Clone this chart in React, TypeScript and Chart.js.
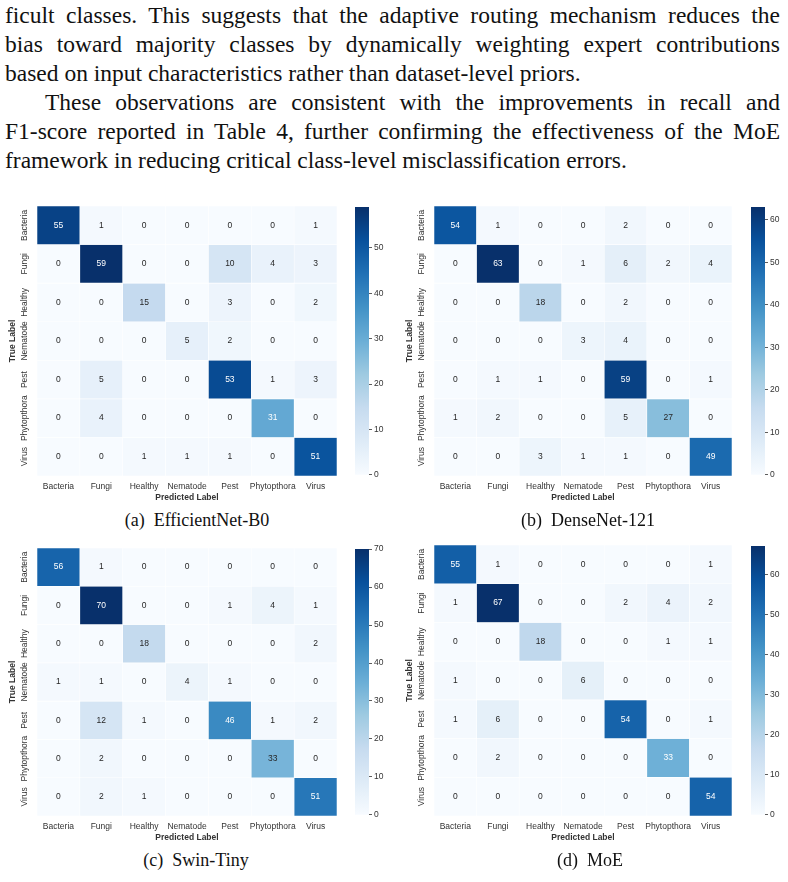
import React, { useEffect, useRef } from "react";
import { Chart, registerables } from "chart.js";

Chart.register(...registerables);

// ---- data -------------------------------------------------------------
const CLASSES = ["Bacteria", "Fungi", "Healthy", "Nematode", "Pest", "Phytopthora", "Virus"];

// rows = true label, columns = predicted label
const EFFICIENTNET_B0 = [
  [55, 1, 0, 0, 0, 0, 1],
  [0, 59, 0, 0, 10, 4, 3],
  [0, 0, 15, 0, 3, 0, 2],
  [0, 0, 0, 5, 2, 0, 0],
  [0, 5, 0, 0, 53, 1, 3],
  [0, 4, 0, 0, 0, 31, 0],
  [0, 0, 1, 1, 1, 0, 51],
];

const DENSENET_121 = [
  [54, 1, 0, 0, 2, 0, 0],
  [0, 63, 0, 1, 6, 2, 4],
  [0, 0, 18, 0, 2, 0, 0],
  [0, 0, 0, 3, 4, 0, 0],
  [0, 1, 1, 0, 59, 0, 1],
  [1, 2, 0, 0, 5, 27, 0],
  [0, 0, 3, 1, 1, 0, 49],
];

const SWIN_TINY = [
  [56, 1, 0, 0, 0, 0, 0],
  [0, 70, 0, 0, 1, 4, 1],
  [0, 0, 18, 0, 0, 0, 2],
  [1, 1, 0, 4, 1, 0, 0],
  [0, 12, 1, 0, 46, 1, 2],
  [0, 2, 0, 0, 0, 33, 0],
  [0, 2, 1, 0, 0, 0, 51],
];

const MOE = [
  [55, 1, 0, 0, 0, 0, 1],
  [1, 67, 0, 0, 2, 4, 2],
  [0, 0, 18, 0, 0, 1, 1],
  [1, 0, 0, 6, 0, 0, 0],
  [1, 6, 0, 0, 54, 0, 1],
  [0, 2, 0, 0, 0, 33, 0],
  [0, 0, 0, 0, 0, 0, 54],
];

const CAPTIONS = ["(a)\u2002EfficientNet-B0", "(b)\u2002DenseNet-121", "(c)\u2002Swin-Tiny", "(d)\u2002MoE"];

const BODY_LINES = [
  "ficult classes. This suggests that the adaptive routing mechanism reduces the",
  "bias toward majority classes by dynamically weighting expert contributions",
  "based on input characteristics rather than dataset-level priors.",
  "These observations are consistent with the improvements in recall and",
  "F1-score reported in Table 4, further confirming the effectiveness of the MoE",
  "framework in reducing critical class-level misclassification errors.",
];

// ---- colour map (matplotlib "Blues") ---------------------------------
const BLUES = ["#f7fbff", "#deebf7", "#c6dbef", "#9ecae1", "#6baed6", "#4292c6", "#2171b5", "#08519c", "#08306b"];

function hexToRgb(h: string): number[] {
  const n = parseInt(h.slice(1), 16);
  return [(n >> 16) & 255, (n >> 8) & 255, n & 255];
}
const BLUES_RGB = BLUES.map(hexToRgb);

function blues(t: number): number[] {
  const tt = Math.max(0, Math.min(1, t));
  const p = tt * (BLUES_RGB.length - 1);
  const i = Math.min(Math.floor(p), BLUES_RGB.length - 2);
  const f = p - i;
  return BLUES_RGB[i].map((c, k) => c + (BLUES_RGB[i + 1][k] - c) * f);
}
const css = (rgb: number[]) => `rgb(${rgb.map((v) => Math.round(v)).join(",")})`;

function luminance(rgb: number[]): number {
  const lin = rgb.map((v) => {
    const c = v / 255;
    return c <= 0.03928 ? c / 12.92 : Math.pow((c + 0.055) / 1.055, 2.4);
  });
  return 0.2126 * lin[0] + 0.7152 * lin[1] + 0.0722 * lin[2];
}

const SANS = "'Liberation Sans', Arial, sans-serif";
const SERIF = "'Liberation Serif', 'Times New Roman', serif";
const INK = "#333333";
const FS = 8.5;

// ---- geometry of the four panels ---------------------------------------
type Box = { left: number; top: number; right: number; bottom: number; cbLeft: number };
const PANELS: { matrix: number[][]; box: Box; caption: string; capX: number; capY: number }[] = [
  { matrix: EFFICIENTNET_B0, box: { left: 37, top: 206, right: 337, bottom: 476, cbLeft: 355 }, caption: CAPTIONS[0], capX: 197, capY: 520 },
  { matrix: DENSENET_121, box: { left: 434, top: 206, right: 732, bottom: 476, cbLeft: 751 }, caption: CAPTIONS[1], capX: 588, capY: 520 },
  { matrix: SWIN_TINY, box: { left: 37, top: 548, right: 337, bottom: 816, cbLeft: 355 }, caption: CAPTIONS[2], capX: 196, capY: 860 },
  { matrix: MOE, box: { left: 434, top: 545, right: 732, bottom: 816, cbLeft: 751 }, caption: CAPTIONS[3], capX: 590, capY: 860 },
];

const Y_AXIS_W = 40;
const X_AXIS_H = 30;
const PAD = 6;
const CB_W = 14;
const CB_AXIS_W = 30;

function Heatmap({ matrix, box }: { matrix: number[][]; box: Box }) {
  const ref = useRef<HTMLCanvasElement>(null);
  const w = box.right - box.left + Y_AXIS_W + PAD;
  const h = box.bottom - box.top + PAD + X_AXIS_H;

  useEffect(() => {
    if (!ref.current) return;
    const vmax = Math.max(...matrix.flat());

    // numbers written in the middle of every cell
    const cellText = {
      id: "cellText",
      afterDatasetsDraw(chart: any) {
        const ctx = chart.ctx;
        ctx.save();
        ctx.font = `${FS}px ${SANS}`;
        ctx.textAlign = "center";
        ctx.textBaseline = "middle";
        matrix.forEach((row, r) => {
          const meta = chart.getDatasetMeta(r);
          row.forEach((v, c) => {
            const bar = meta.data[c];
            if (!bar) return;
            const { x, y, base } = bar.getProps(["x", "y", "base"], true);
            ctx.fillStyle = luminance(blues(v / vmax)) > 0.408 ? "#262626" : "#ffffff";
            ctx.fillText(String(v), x, (y + base) / 2);
          });
        });
        ctx.restore();
      },
    };

    // rotated class names along the left edge
    const rowLabels = {
      id: "rowLabels",
      afterDraw(chart: any) {
        const ctx = chart.ctx;
        const ys = chart.scales.y;
        ctx.save();
        ctx.font = `${FS}px ${SANS}`;
        ctx.fillStyle = INK;
        ctx.textAlign = "center";
        ctx.textBaseline = "middle";
        CLASSES.forEach((name, i) => {
          ctx.save();
          ctx.translate(chart.chartArea.left - 12, ys.getPixelForValue(i + 0.5));
          ctx.rotate(-Math.PI / 2);
          ctx.fillText(name, 0, 0);
          ctx.restore();
        });
        ctx.restore();
      },
    };

    const chart = new Chart(ref.current, {
      type: "bar",
      data: {
        labels: CLASSES,
        datasets: matrix.map((row, r) => ({
          label: CLASSES[r],
          data: row.map(() => [r, r + 1]),
          backgroundColor: row.map((v) => css(blues(v / vmax))),
          borderColor: "rgba(255,255,255,0.55)",
          borderWidth: 0.6,
          borderSkipped: false,
          grouped: false,
          barPercentage: 1,
          categoryPercentage: 1,
        })) as any,
      },
      options: {
        animation: false,
        responsive: false,
        maintainAspectRatio: false,
        events: [],
        layout: { padding: { left: 0, top: PAD, right: PAD, bottom: 0 } },
        plugins: { legend: { display: false }, tooltip: { enabled: false } },
        scales: {
          x: {
            type: "category",
            offset: true,
            grid: { display: false, drawTicks: false },
            border: { display: false },
            ticks: { font: { family: SANS, size: FS }, color: INK, padding: 6, maxRotation: 0, autoSkip: false },
            title: {
              display: true,
              text: "Predicted Label",
              font: { family: SANS, size: FS, weight: "bold" },
              color: INK,
              padding: { top: 0, bottom: 3 },
            },
            afterFit: (s: any) => {
              s.height = X_AXIS_H;
            },
          },
          y: {
            type: "linear",
            min: 0,
            max: CLASSES.length,
            reverse: true,
            grid: { display: false, drawTicks: false },
            border: { display: false },
            ticks: { display: false },
            title: {
              display: true,
              text: "True Label",
              font: { family: SANS, size: FS, weight: "bold" },
              color: INK,
              padding: { top: 11, bottom: 0 },
            },
            afterFit: (s: any) => {
              s.width = Y_AXIS_W;
            },
          },
        },
      } as any,
      plugins: [cellText, rowLabels],
    });
    return () => chart.destroy();
  }, [matrix]);

  return (
    <canvas
      ref={ref}
      width={w}
      height={h}
      style={{ position: "absolute", left: box.left - Y_AXIS_W, top: box.top - PAD, width: w, height: h }}
    />
  );
}

function ColorBar({ matrix, box }: { matrix: number[][]; box: Box }) {
  const ref = useRef<HTMLCanvasElement>(null);
  const w = CB_W + CB_AXIS_W;
  const h = box.bottom - box.top + 2 * PAD;

  useEffect(() => {
    if (!ref.current) return;
    const vmax = Math.max(...matrix.flat());
    const chart = new Chart(ref.current, {
      type: "bar",
      data: {
        labels: [""],
        datasets: [
          {
            data: [[0, vmax]],
            backgroundColor: (c: any) => {
              const ch = c.chart;
              const area = ch.chartArea;
              if (!area || !isFinite(area.top) || !isFinite(area.bottom) || area.bottom === area.top) return BLUES[3];
              const g = ch.ctx.createLinearGradient(0, area.bottom, 0, area.top);
              BLUES.forEach((col, i) => g.addColorStop(i / (BLUES.length - 1), col));
              return g;
            },
            borderWidth: 0,
            barPercentage: 1,
            categoryPercentage: 1,
          },
        ] as any,
      },
      options: {
        animation: false,
        responsive: false,
        maintainAspectRatio: false,
        events: [],
        layout: { padding: { left: 0, top: PAD, right: 0, bottom: PAD } },
        plugins: { legend: { display: false }, tooltip: { enabled: false } },
        scales: {
          x: { display: false, offset: true },
          y: {
            position: "right",
            min: 0,
            max: vmax,
            grid: { drawOnChartArea: false, drawTicks: true, tickLength: 3, color: INK, lineWidth: 0.8 },
            border: { display: false },
            ticks: { stepSize: 10, includeBounds: false, font: { family: SANS, size: FS }, color: INK, padding: 2 },
            afterFit: (s: any) => {
              s.width = CB_AXIS_W;
            },
          },
        },
      } as any,
    });
    return () => chart.destroy();
  }, [matrix]);

  return (
    <canvas
      ref={ref}
      width={w}
      height={h}
      style={{ position: "absolute", left: box.cbLeft, top: box.top - PAD, width: w, height: h }}
    />
  );
}

export default function App() {
  const lineStyle = (i: number): React.CSSProperties => ({
    position: "absolute",
    left: i === 3 ? 45 : 5,
    width: i === 3 ? 735 : 775,
    top: 29 * i + 1,
    height: 29,
    lineHeight: "29px",
    fontFamily: SERIF,
    fontSize: 23.5,
    color: "#111",
    whiteSpace: i === 2 || i === 5 ? "nowrap" : "normal",
    textAlign: i === 2 || i === 5 ? "left" : "justify",
    textAlignLast: i === 2 || i === 5 ? "left" : "justify",
  });

  return (
    <div style={{ position: "absolute", left: 0, top: 0, width: 788, height: 882, background: "#fff", overflow: "hidden" }}>
      {BODY_LINES.map((t, i) => (
        <div key={i} style={lineStyle(i)}>
          {t}
        </div>
      ))}
      {PANELS.map((p, i) => (
        <React.Fragment key={i}>
          <Heatmap matrix={p.matrix} box={p.box} />
          <ColorBar matrix={p.matrix} box={p.box} />
          <div
            style={{
              position: "absolute",
              left: p.capX - 150,
              width: 300,
              top: p.capY - 12,
              height: 24,
              lineHeight: "24px",
              textAlign: "center",
              fontFamily: SERIF,
              fontSize: 18,
              color: "#111",
            }}
          >
            {p.caption}
          </div>
        </React.Fragment>
      ))}
    </div>
  );
}
